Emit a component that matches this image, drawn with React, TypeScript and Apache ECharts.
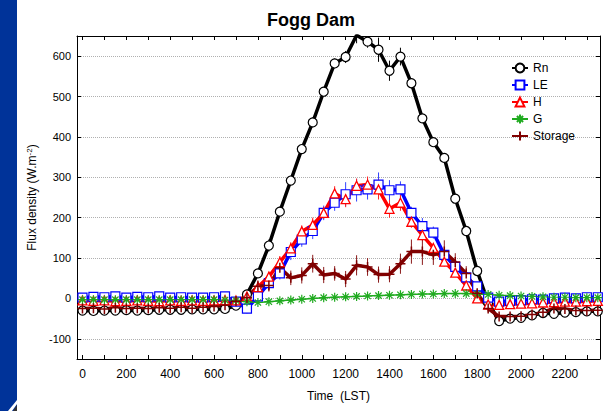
import React, { useEffect, useRef } from 'react';
import * as echarts from 'echarts';

// Half-hourly time stamps (hour * 100)
const TIMES = [
  0, 50, 100, 150, 200, 250, 300, 350, 400, 450, 500, 550,
  600, 650, 700, 750, 800, 850, 900, 950, 1000, 1050, 1100, 1150,
  1200, 1250, 1300, 1350, 1400, 1450, 1500, 1550, 1600, 1650, 1700, 1750,
  1800, 1850, 1900, 1950, 2000, 2050, 2100, 2150, 2200, 2250, 2300, 2350,
];

const RN = [
  -30, -31, -30, -30, -29, -30, -29, -28, -28, -28, -27, -27,
  -27, -26, -18, 10, 62, 131, 215, 292, 370, 436, 512, 582,
  598, 652, 636, 616, 564, 599, 533, 446, 387, 348, 247, 167,
  68, -10, -56, -50, -48, -42, -36, -38, -35, -34, -32, -32,
];
const RN_ERR = [
  3, 3, 3, 3, 3, 3, 3, 3, 3, 3, 3, 3,
  3, 3, 5, 8, 10, 15, 12, 10, 10, 12, 10, 12,
  15, 20, 15, 30, 25, 22, 12, 10, 10, 10, 10, 8,
  8, 5, 4, 4, 4, 4, 4, 4, 4, 4, 4, 4,
];

const LE = [
  2, 4, 3, 5, 2, 4, 3, 5, 2, 3, 2, 2,
  3, 5, -8, -25, 5, 38, 62, 115, 146, 167, 212, 237,
  258, 268, 270, 282, 268, 270, 212, 179, 163, 108, 78, 52,
  30, 2, -8, -6, -5, -2, -3, 0, 2, 0, 3, 3,
];
const LE_ERR = [
  4, 4, 4, 4, 4, 4, 4, 4, 4, 4, 4, 4,
  4, 5, 8, 12, 10, 15, 15, 20, 18, 20, 18, 20,
  30, 28, 25, 30, 25, 20, 15, 20, 15, 15, 10, 10,
  8, 5, 4, 4, 4, 4, 4, 4, 4, 4, 4, 4,
];

const H = [
  -5, -6, -5, -7, -6, -5, -6, -7, -5, -6, -5, -6,
  -5, -4, -5, 5, 28, 54, 90, 124, 166, 182, 212, 260,
  246, 279, 282, 270, 222, 237, 190, 157, 125, 91, 64, 32,
  0, -15, -16, -14, -13, -12, -10, -9, -8, -8, -7, -6,
];
const H_ERR = [
  3, 3, 3, 3, 3, 3, 3, 3, 3, 3, 3, 3,
  3, 3, 5, 8, 10, 12, 15, 15, 15, 18, 15, 18,
  20, 18, 20, 25, 22, 20, 15, 15, 12, 12, 10, 8,
  6, 4, 3, 3, 3, 3, 3, 3, 3, 3, 3, 3,
];

const G = [
  -3, -3, -3, -3, -3, -3, -3, -3, -3, -3, -3, -3,
  -3, -4, -5, -8, -10, -8, -6, -4, -2, 0, 2, 3,
  4, 5, 6, 7, 8, 9, 10, 11, 11, 12, 12, 12,
  11, 10, 8, 7, 6, 5, 4, 3, 3, 2, 2, 2,
];
const G_ERR = [
  2, 2, 2, 2, 2, 2, 2, 2, 2, 2, 2, 2,
  2, 2, 2, 3, 3, 3, 3, 3, 3, 3, 3, 3,
  3, 3, 3, 3, 3, 3, 3, 3, 3, 3, 3, 3,
  3, 2, 2, 2, 2, 2, 2, 2, 2, 2, 2, 2,
];

const STORAGE = [
  -25, -24, -26, -23, -25, -24, -25, -23, -24, -22, -24, -22,
  -20, -17, -7, 2, 30, 32, 76, 51, 57, 86, 58, 62,
  48, 82, 78, 59, 60, 86, 116, 116, 108, 116, 90, 62,
  13, -25, -45, -45, -44, -40, -34, -25, -26, -30, -30, -29,
];
const STORAGE_ERR = [
  5, 5, 5, 5, 5, 5, 5, 5, 5, 5, 5, 5,
  5, 5, 8, 10, 15, 15, 20, 18, 20, 22, 20, 18,
  20, 25, 22, 20, 20, 25, 30, 33, 25, 28, 22, 18,
  12, 8, 6, 6, 6, 6, 6, 6, 6, 6, 6, 6,
];

const X_LABELS = [0, 200, 400, 600, 800, 1000, 1200, 1400, 1600, 1800, 2000, 2200];
const X_TICKS = [0, 100, 200, 300, 400, 500, 600, 700, 800, 900, 1000, 1100, 1200, 1300, 1400, 1500, 1600, 1700, 1800, 1900, 2000, 2100, 2200, 2300];
const Y_TICKS = [-100, 0, 100, 200, 300, 400, 500, 600];

const FONT = '"Liberation Sans", Arial, Helvetica, sans-serif';

const ASTERISK = 'path://M5,0 L5,10 M0,5 L10,5 M1.5,1.5 L8.5,8.5 M1.5,8.5 L8.5,1.5';
const PLUS = 'path://M5,0 L5,10 M0,5 L10,5';

export default function App() {
  const ref = useRef<HTMLDivElement>(null);

  useEffect(() => {
    if (!ref.current) return;
    const chart = echarts.init(ref.current, null, { renderer: 'svg' });

    const defs = [
      { name: 'Rn', vals: RN, errs: RN_ERR, color: '#000000', errColor: '#000000', symbol: 'circle', size: 9, fill: '#ffffff', border: 1.2, width: 3.5 },
      { name: 'LE', vals: LE, errs: LE_ERR, color: '#0000ff', errColor: '#3344ff', symbol: 'rect', size: 9, fill: '#ffffff', border: 1.2, width: 3.5 },
      { name: 'H', vals: H, errs: H_ERR, color: '#ff0000', errColor: '#ff2222', symbol: 'triangle', size: 9, fill: '#ffffff', border: 1.3, width: 3.5 },
      { name: 'G', vals: G, errs: G_ERR, color: '#1faa1f', errColor: '#1faa1f', symbol: ASTERISK, size: 9, fill: '#1faa1f', border: 1.2, width: 1.5 },
      { name: 'Storage', vals: STORAGE, errs: STORAGE_ERR, color: '#800000', errColor: '#8b1a1a', symbol: PLUS, size: 10, fill: '#800000', border: 1.5, width: 3.5 },
    ];

    const series: any[] = [];
    defs.forEach((d) => {
      const errData = TIMES.map((t, i) => [t, d.vals[i] - d.errs[i], d.vals[i] + d.errs[i]]);
      series.push({
        name: d.name + '_err',
        type: 'custom',
        clip: true,
        silent: true,
        data: errData,
        encode: { x: 0, y: [1, 2] },
        renderItem: (params: any, api: any) => {
          const x = api.value(0);
          const p1 = api.coord([x, api.value(1)]);
          const p2 = api.coord([x, api.value(2)]);
          return {
            type: 'line',
            shape: { x1: p1[0], y1: p1[1], x2: p2[0], y2: p2[1] },
            style: { stroke: d.errColor, lineWidth: 1 },
          };
        },
      });
      series.push({
        name: d.name,
        type: 'line',
        data: TIMES.map((t, i) => [t, d.vals[i]]),
        symbol: d.symbol,
        symbolSize: d.size,
        showAllSymbol: true,
        clip: true,
        lineStyle: { color: d.color, width: d.width },
        itemStyle: { color: d.fill, borderColor: d.color, borderWidth: d.border },
      });
    });

    const axisLine = { show: true, onZero: false, lineStyle: { color: '#000', width: 1 } };
    const plain = (v: number) => String(v);

    chart.setOption({
      animation: false,
      backgroundColor: '#ffffff',
      title: {
        text: 'Fogg Dam',
        left: 267,
        top: 11,
        padding: 0,
        textStyle: { fontFamily: FONT, fontSize: 18, fontWeight: 'bold', color: '#000' },
      },
      legend: {
        orient: 'vertical',
        left: 506,
        top: 57,
        itemWidth: 16,
        itemHeight: 11,
        itemGap: 5,
        data: ['Rn', 'LE', 'H', 'G', 'Storage'],
        textStyle: { fontFamily: FONT, fontSize: 12, color: '#000' },
      },
      grid: { left: 77, right: 8, top: 36, bottom: 52, containLabel: false },
      xAxis: [
        {
          type: 'value',
          min: -25,
          max: 2360,
          position: 'bottom',
          axisLine,
          axisTick: { show: true, inside: true, length: 4, customValues: X_TICKS, lineStyle: { color: '#000' } },
          axisLabel: { show: true, customValues: X_LABELS, formatter: plain, margin: 9, fontFamily: FONT, fontSize: 12, color: '#000' },
          splitLine: { show: false },
          name: 'Time  (LST)',
          nameLocation: 'middle',
          nameGap: 31,
          nameTextStyle: { fontFamily: FONT, fontSize: 12, color: '#000' },
        },
        {
          type: 'value',
          min: -25,
          max: 2360,
          position: 'top',
          axisLine,
          axisTick: { show: true, inside: true, length: 4, customValues: X_TICKS, lineStyle: { color: '#000' } },
          axisLabel: { show: false },
          splitLine: { show: false },
        },
      ],
      yAxis: [
        {
          type: 'value',
          min: -150,
          max: 650,
          position: 'left',
          axisLine,
          axisTick: { show: true, inside: true, length: 4, customValues: Y_TICKS, lineStyle: { color: '#000' } },
          axisLabel: { show: true, customValues: Y_TICKS, formatter: plain, margin: 6, fontFamily: FONT, fontSize: 11, color: '#000' },
          splitLine: { show: true, lineStyle: { color: '#b0b0b0', type: 'dotted', width: 1 } },
          name: 'Flux density (W.m{sup|-2})',
          nameLocation: 'middle',
          nameGap: 38,
          nameRotate: 90,
          nameTextStyle: {
            fontFamily: FONT,
            fontSize: 12,
            color: '#000',
            rich: { sup: { fontFamily: FONT, fontSize: 8, color: '#000', padding: [0, 0, 6, 0] } },
          },
        },
        {
          type: 'value',
          min: -150,
          max: 650,
          position: 'right',
          axisLine,
          axisTick: { show: true, inside: true, length: 4, customValues: Y_TICKS, lineStyle: { color: '#000' } },
          axisLabel: { show: false },
          splitLine: { show: false },
        },
      ],
      graphic: [
        { type: 'rect', left: 0, top: 0, shape: { width: 17, height: 411 }, style: { fill: '#003399' }, z: 100 },
        { type: 'polygon', shape: { points: [[17, 400], [17, 404], [12, 411], [8, 411]] }, style: { fill: '#ffffff' }, z: 101 },
        { type: 'polygon', shape: { points: [[17, 405], [17, 411], [13, 411]] }, style: { fill: '#333333' }, z: 101 },
      ],
      series,
    });

    return () => chart.dispose();
  }, []);

  return <div ref={ref} style={{ position: 'fixed', left: 0, top: 0, width: 608, height: 411 }} />;
}
